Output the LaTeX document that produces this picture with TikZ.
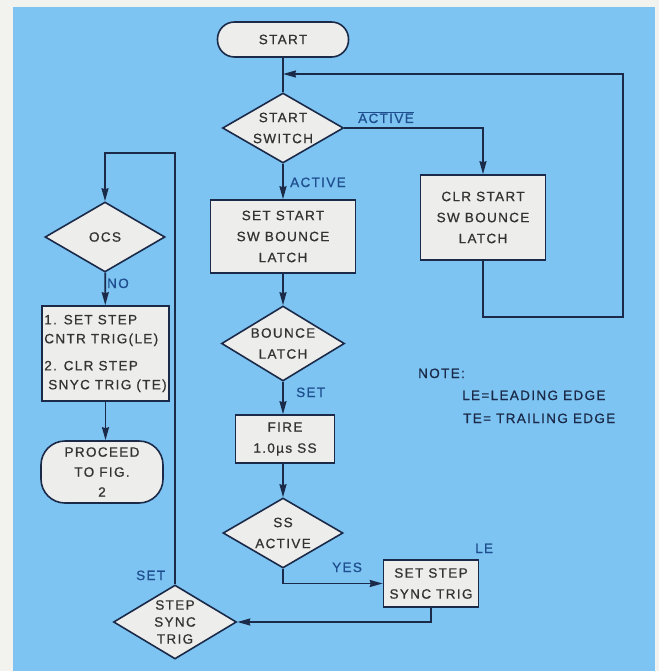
\documentclass[tikz,border=0pt]{standalone}
\usepackage{fontspec}
\setmainfont[LetterSpace=10, FakeBold=0.7]{Liberation Sans}
\usetikzlibrary{shapes.geometric, arrows.meta}
\definecolor{paper}{HTML}{F2F2EF}
\definecolor{panel}{HTML}{7DC4F2}
\definecolor{ink}{HTML}{1B2A48}
\definecolor{boxfill}{HTML}{EDEDEB}
\definecolor{boxtext}{HTML}{333333}
\definecolor{tagblue}{HTML}{1F4E8E}
\newcommand\chartfont{\fontsize{13.5}{21}\selectfont}
\tikzset{
    boxnode/.style={draw=ink, line width=1.6pt, fill=boxfill, text=boxtext, inner sep=0pt, align=center, font=\chartfont},
    block/.style={boxnode, rectangle},
    test/.style={boxnode, diamond, aspect=1.7},
    term/.style={boxnode, rectangle, rounded corners=#1},
    term/.default=17pt,
    link/.style={draw=ink, line width=1.7pt},
    flow/.style={link, -{Stealth[length=13pt, width=7pt, inset=1pt]}},
    tag/.style={text=tagblue, font=\chartfont, inner sep=0pt, anchor=base west},
    common settings/.style={x=1pt, y=-1pt, line join=miter}
}

\begin{document}
\begin{tikzpicture}[common settings]

    % 1. Paper and blue panel
    \useasboundingbox (0,0) rectangle (659,671);
    \fill[paper] (0,0) rectangle (659,671);
    \fill[panel] (13,7) rectangle (655,671);

    % 2. Main column
    \node[term, minimum width=131pt, minimum height=35pt] (start) at (283,39.5) {START};
    \node[test, minimum width=121pt, minimum height=70pt] (swtest) at (283,128) {START\\SWITCH};
    \node[block, minimum width=145pt, minimum height=73pt] (setlatch) at (283,236.5) {SET START\\SW BOUNCE\\LATCH};
    \node[test, minimum width=123pt, minimum height=75pt] (bouncetest) at (283,343.5) {BOUNCE\\LATCH};
    \node[block, minimum width=99pt, minimum height=48pt] (fire) at (285,439) {FIRE\\1.0µs SS};
    \node[test, minimum width=120pt, minimum height=70pt] (sstest) at (283,533) {SS\\ACTIVE};

    % 3. Right branch
    \node[block, minimum width=125pt, minimum height=85pt] (clrlatch) at (483,217.5) {CLR START\\SW BOUNCE\\LATCH};
    \node[block, minimum width=95pt, minimum height=47pt] (syncset) at (431,583.5) {SET STEP\\SYNC TRIG};

    % 4. Left column
    \node[test, minimum width=123pt, minimum height=74pt, font=\fontsize{13.5}{17}\selectfont] (synctest) at (175,622) {STEP\\SYNC\\TRIG};
    \node[test, minimum width=120pt, minimum height=70pt] (ocstest) at (105,237) {OCS};
    \node[block, minimum width=127pt, minimum height=95pt, align=left, font=\fontsize{13.5}{19}\selectfont] (stepclr) at (105.5,353.5)
        {1. SET STEP\\CNTR TRIG(LE)\\[8pt]2. CLR STEP\\\hspace{4pt}SNYC TRIG (TE)};
    \node[term=24pt, minimum width=122pt, minimum height=62pt, font=\fontsize{13.5}{20}\selectfont] (proceed) at (102,472) {PROCEED\\TO FIG.\\2};

    % 5. Connectors
    \coordinate (loopin) at (283,74);
    \coordinate (loopbr) at (623,317);
    \coordinate (looptop) at (175,153);
    \draw[link] (start) -- (swtest);
    \draw[flow] (swtest) -- (setlatch);
    \draw[flow] (swtest.east) -| (clrlatch.north);
    \draw[flow] (clrlatch.south) |- (loopbr) |- (loopin);
    \draw[flow] (setlatch) -- (bouncetest);
    \draw[flow] (bouncetest) -- (bouncetest.south |- fire.north);
    \draw[flow] (fire.south -| sstest.north) -- (sstest);
    \draw[flow] (sstest.south) |- (syncset.west);
    \draw[flow] (syncset.south) |- (synctest.east);
    \draw[flow] (synctest.north) -- (looptop) -| (ocstest.north);
    \draw[flow] (ocstest) -- (stepclr);
    \draw[flow] (stepclr.south) -- (stepclr.south |- proceed.north);

    % 6. Branch labels
    \node[tag] (tactivebar) at (358,123) {$\overline{\hbox{ACTIVE}}$};
    \node[tag] (tactive) at (290,187) {ACTIVE};
    \node[tag] (tset) at (296,397) {SET};
    \node[tag] (tno) at (107,288) {NO};
    \node[tag] (tyes) at (332,572) {YES};
    \node[tag] (tle) at (475,553) {LE};
    \node[tag] (tsetleft) at (136,580) {SET};

    % 7. Note
    \node[tag, text=ink] (note) at (418,378) {NOTE:};
    \node[tag, text=ink] (notele) at (462,400) {LE=LEADING EDGE};
    \node[tag, text=ink] (notete) at (463,423) {TE= TRAILING EDGE};

\end{tikzpicture}
\end{document}
